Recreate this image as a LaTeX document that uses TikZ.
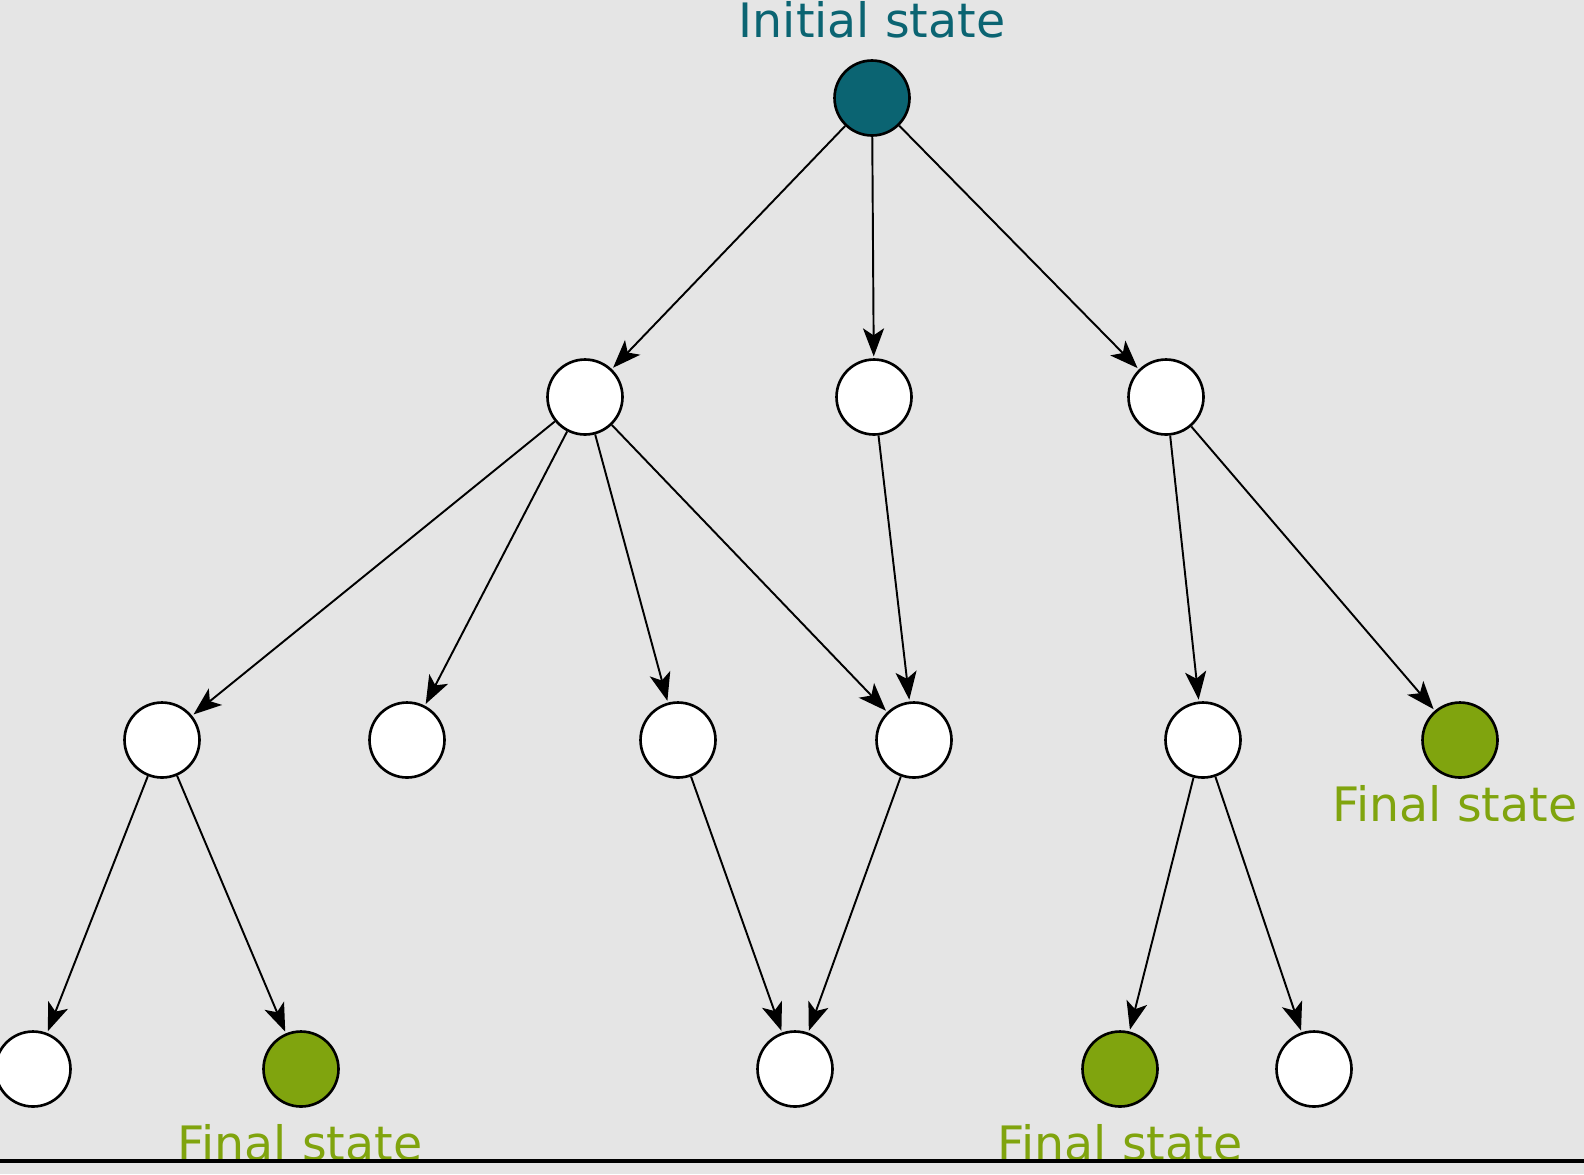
\documentclass[tikz,border=0pt]{standalone}
\usepackage{fontspec}
\setmainfont{DejaVu Sans}
\usetikzlibrary{arrows.meta}
\definecolor{bg}{HTML}{E5E5E5}
\definecolor{teal0}{HTML}{0B6472}
\definecolor{green0}{HTML}{80A40E}
\begin{document}
\begin{tikzpicture}[x=0.02cm,y=-0.02cm,
  st/.style={circle,draw=black,line width=1.5pt,fill=white,minimum size=1.5cm,inner sep=0pt},
  ini/.style={st,fill=teal0},
  fin/.style={st,fill=green0},
  edge/.style={-{Stealth[length=16pt,width=12pt,inset=4pt]},line width=1.1pt,shorten >=1pt},
  lab/.style={font=\fontsize{27}{29}\selectfont}]
\fill[bg] (0,0) rectangle (1584,1174);
\useasboundingbox (0,0) rectangle (1584,1174);
\begin{scope}
\clip (0,0) rectangle (1584,1160);
\node[lab,text=teal0] (t0) at (872,20) {Initial state};
\node[lab,text=green0] (t1) at (1455,804) {Final state};
\node[lab,text=green0] (t2) at (300,1143) {Final state};
\node[lab,text=green0] (t3) at (1120,1143) {Final state};
\end{scope}
\draw[line width=2pt] (0,1161) -- (1584,1161);
\node[ini] (r) at (872,98) {};
\node[st] (a) at (585,397) {};
\node[st] (b) at (874,397) {};
\node[st] (c) at (1166,397) {};
\node[st] (d) at (162,740) {};
\node[st] (e) at (407,740) {};
\node[st] (f) at (678,740) {};
\node[st] (g) at (914,740) {};
\node[st] (h) at (1203,740) {};
\node[fin] (i) at (1460,740) {};
\node[st] (j) at (33,1069) {};
\node[fin] (k) at (301,1069) {};
\node[st] (l) at (795,1069) {};
\node[fin] (m) at (1120,1069) {};
\node[st] (n) at (1314,1069) {};
\foreach \s/\t in {r/a,r/b,r/c,a/d,a/e,a/f,a/g,b/g,c/h,c/i,d/j,d/k,f/l,g/l,h/m,h/n}
  \draw[edge] (\s) -- (\t);
\end{tikzpicture}
\end{document}
